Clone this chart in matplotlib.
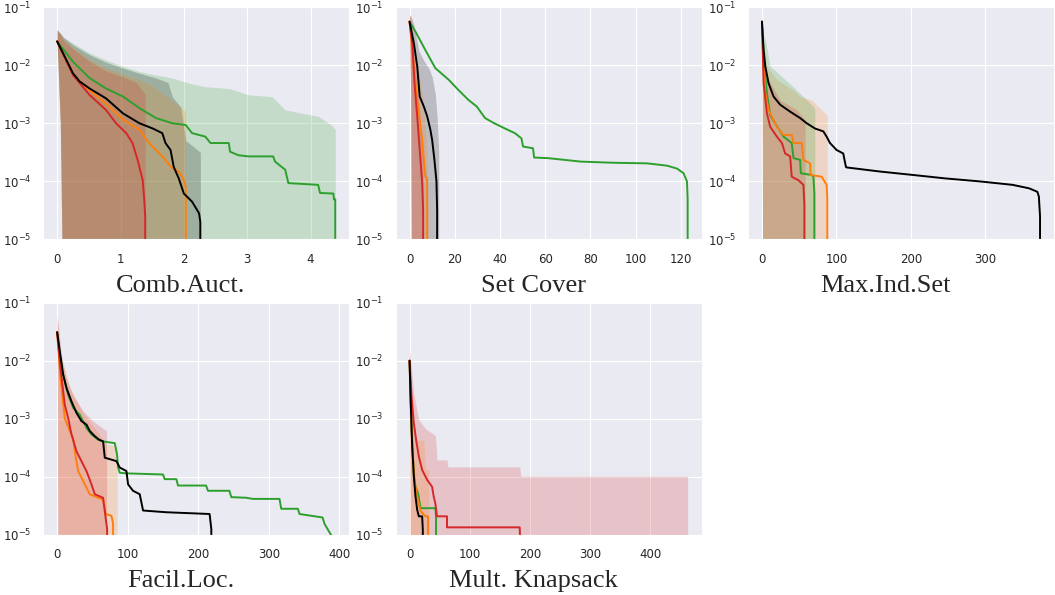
import matplotlib
matplotlib.use("Agg")
import matplotlib.pyplot as plt
import numpy as np
import seaborn as sns

sns.set_style("darkgrid")
plt.rcParams['font.family'] = ['DejaVu Sans']

GREEN = '#2ca02c'
ORANGE = '#ff7f0e'
RED = '#d62728'
BLACK = 'black'
FLOOR = -7  # exponent below the visible axis, used where a curve leaves the plot

# ---------------------------------------------------------------- Comb.Auct.
# x values and log10(y) values
ca_green_x = [0, 0.25, 0.51, 0.77, 1.04, 1.30, 1.56, 1.82, 2.03, 2.13, 2.34, 2.42, 2.71,
              2.73, 2.86, 3.02, 3.41, 3.44, 3.6, 3.65, 4.12, 4.15, 4.36, 4.37, 4.39, 4.39]
ca_green_e = [-1.59, -1.94, -2.22, -2.40, -2.54, -2.74, -2.91, -3.0, -3.03, -3.17, -3.23, -3.34, -3.34,
              -3.49, -3.55, -3.57, -3.57, -3.66, -3.80, -4.03, -4.06, -4.2, -4.21, -4.31, -4.31, FLOOR]
ca_orange_x = [0, 0.25, 0.51, 0.77, 1.04, 1.30, 1.45, 1.66, 1.82, 1.92, 2.0, 2.03, 2.03]
ca_orange_e = [-1.59, -2.17, -2.43, -2.66, -2.94, -3.11, -3.34, -3.57, -3.78, -3.83, -3.98, -4.1, FLOOR]
ca_red_x = [0, 0.25, 0.51, 0.77, 0.93, 1.09, 1.19, 1.27, 1.35, 1.375, 1.39, 1.39]
ca_red_e = [-1.59, -2.17, -2.51, -2.77, -3.0, -3.17, -3.34, -3.63, -3.98, -4.32, -4.6, FLOOR]
ca_black_x = [0, 0.146, 0.25, 0.356, 0.51, 0.77, 1.04, 1.30, 1.51, 1.66, 1.71, 1.79, 1.84,
              1.92, 2.0, 2.13, 2.24, 2.26, 2.26]
ca_black_e = [-1.59, -1.91, -2.14, -2.28, -2.40, -2.57, -2.83, -3.0, -3.09, -3.17, -3.34, -3.46, -3.75,
              -3.95, -4.21, -4.35, -4.55, -4.7, FLOOR]

ca_green_band_x = [0, 0.05, 0.1, 0.25, 0.51, 0.77, 1.04, 1.30, 1.56, 1.82, 2.08, 2.34, 2.71,
                   3.02, 3.39, 3.6, 4.12, 4.33, 4.39]
ca_green_band_hi = [-1.39, -1.45, -1.52, -1.62, -1.79, -1.91, -2.02, -2.11, -2.17, -2.22, -2.31, -2.37, -2.40,
                    -2.51, -2.54, -2.77, -2.88, -3.03, -3.11]
ca_green_band_lo = [-1.62, -3.0, -7, -7, -7, -7, -7, -7, -7, -7, -7, -7, -7,
                    -7, -7, -7, -7, -7, -7]
ca_black_band_x = [0, 0.05, 0.1, 0.25, 0.51, 0.77, 1.04, 1.30, 1.56, 1.75, 1.82, 1.95, 2.03, 2.15, 2.26]
ca_black_band_hi = [-1.39, -1.45, -1.52, -1.65, -1.82, -1.95, -2.05, -2.14, -2.22, -2.3, -2.55, -2.72,
                    -3.3, -3.4, -3.5]
ca_black_band_lo = [-1.62, -3.0, -7, -7, -7, -7, -7, -7, -7, -7, -7, -7, -7, -7, -7]
ca_orange_band_x = [0, 0.05, 0.1, 0.25, 0.51, 0.77, 1.04, 1.30, 1.5, 1.8, 2.03]
ca_orange_band_hi = [-1.39, -1.45, -1.55, -1.7, -1.9, -2.05, -2.15, -2.25, -2.35, -2.6, -2.8]
ca_orange_band_lo = [-1.62, -3.0, -7, -7, -7, -7, -7, -7, -7, -7, -7]
ca_red_band_x = [0, 0.05, 0.1, 0.25, 0.51, 0.77, 1.04, 1.25, 1.39]
ca_red_band_hi = [-1.39, -1.47, -1.57, -1.72, -1.93, -2.1, -2.2, -2.3, -2.5]
ca_red_band_lo = [-1.62, -3.0, -7, -7, -7, -7, -7, -7, -7]
ca_xticks = [0, 1, 2, 3, 4]

# ---------------------------------------------------------------- Set Cover
sc_green_x = [0, 2.6, 7.0, 11.4, 17.3, 21.7, 26.1, 29.7, 33.4, 37.0, 42.2, 46.6, 49.5, 50.2, 54.6,
              55.1, 61.2, 68.5, 75.8, 90.5, 105.1, 113.9, 118.3, 121.2, 122.7, 123, 123]
sc_green_e = [-1.25, -1.42, -1.74, -2.05, -2.25, -2.43, -2.60, -2.71, -2.91, -2.99, -3.09, -3.17, -3.26,
              -3.40, -3.43, -3.59, -3.60, -3.63, -3.66, -3.68, -3.69, -3.73, -3.78, -3.86, -4.0, -4.3, FLOOR]
sc_orange_x = [0, 1.2, 2.6, 4.1, 5.6, 6.6, 7.0, 7.8, 7.8]
sc_orange_e = [-1.25, -1.74, -2.31, -2.83, -3.29, -3.75, -3.92, -3.95, FLOOR]
sc_red_x = [0, 1.2, 2.2, 3.4, 4.5, 5.6, 6.0, 6.0]
sc_red_e = [-1.25, -1.62, -2.31, -2.89, -3.46, -4.03, -4.5, FLOOR]
sc_black_x = [0, 1.9, 3.4, 4.5, 6.3, 7.8, 9.2, 10, 11, 11.9, 12.2, 12.2]
sc_black_e = [-1.25, -1.62, -2.02, -2.54, -2.71, -2.88, -3.11, -3.29, -3.63, -4.0, -4.5, FLOOR]

sc_black_band_x = [0, 0.5, 1.0, 1.9, 4.1, 6.3, 8.5, 10, 11.4, 12.2, 12.9]
sc_black_band_hi = [-1.13, -1.15, -1.2, -1.3, -1.75, -1.92, -2.05, -2.2, -2.5, -2.9, -3.5]
sc_black_band_lo = [-1.4, -2.5, -7, -7, -7, -7, -7, -7, -7, -7, -7]
sc_orange_band_x = [0, 0.5, 1.0, 2, 4, 6, 7.5, 8.2]
sc_orange_band_hi = [-1.13, -1.2, -1.3, -1.6, -2.1, -2.6, -3.3, -4.5]
sc_orange_band_lo = [-1.4, -2.5, -7, -7, -7, -7, -7, -7]
sc_red_band_x = [0, 0.5, 1.0, 1.5, 3, 4.5, 5.9, 6.3]
sc_red_band_hi = [-1.13, -1.2, -1.35, -1.7, -2.2, -2.8, -3.6, -5]
sc_red_band_lo = [-1.4, -2.5, -7, -7, -7, -7, -7, -7]
sc_xticks = [0, 20, 40, 60, 80, 100, 120]

# ---------------------------------------------------------------- Max.Ind.Set
mis_green_x = [0, 3.1, 6.7, 11.1, 17.8, 29, 40, 42.4, 51.3, 52.2, 66.9, 69.1, 70.4, 70.4]
mis_green_e = [-1.25, -2.02, -2.48, -2.86, -3.0, -3.23, -3.34, -3.60, -3.63, -3.86, -3.89, -3.92, -4.2, FLOOR]
mis_orange_x = [0, 2.2, 4.5, 8.9, 17.8, 24.5, 29, 40, 42.4, 53.5, 55.7, 64.6, 65.5, 80.2, 86.9, 87.8, 87.8]
mis_orange_e = [-1.25, -2.02, -2.48, -2.77, -3.0, -3.14, -3.20, -3.20, -3.34, -3.34, -3.63, -3.69, -3.89,
                -3.92, -4.06, -4.3, FLOOR]
mis_red_x = [0, 2.2, 6.7, 11.1, 20.1, 26.8, 31.2, 37.9, 40, 49, 55.7, 57, 57]
mis_red_e = [-1.25, -2.31, -2.83, -3.06, -3.23, -3.34, -3.52, -3.57, -3.92, -3.98, -4.06, -4.4, FLOOR]
mis_black_x = [0, 2.2, 4.5, 8.9, 15.6, 24.5, 37.9, 51.3, 60.2, 71.3, 82.5, 86.9, 91.4, 100.3, 109.2,
               112.8, 113.7, 158, 203, 247, 292, 336.6, 359, 370, 372, 373.6, 373.6]
mis_black_e = [-1.25, -1.74, -2.02, -2.31, -2.54, -2.68, -2.80, -2.91, -3.0, -3.09, -3.14, -3.23, -3.34,
               -3.46, -3.52, -3.75, -3.76, -3.83, -3.89, -3.95, -4.0, -4.06, -4.12, -4.18, -4.26, -4.6, FLOOR]

mis_orange_band_x = [0, 0.5, 1, 6.7, 20, 42.4, 51.3, 66.9, 82.5, 87.8]
mis_orange_band_hi = [-1.13, -1.3, -1.5, -2.02, -2.25, -2.43, -2.54, -2.6, -2.8, -2.86]
mis_orange_band_lo = [-1.3, -3, -7, -7, -7, -7, -7, -7, -7, -7]
mis_green_band_x = [0, 0.5, 1, 4.5, 11.1, 24.5, 46.8, 69, 71]
mis_green_band_hi = [-1.13, -1.3, -1.45, -1.56, -2.02, -2.17, -2.43, -2.71, -2.75]
mis_green_band_lo = [-1.3, -3, -7, -7, -7, -7, -7, -7, -7]
mis_red_band_x = [0, 0.5, 1, 6.7, 24.5, 46.8, 58]
mis_red_band_hi = [-1.13, -1.4, -1.7, -2.2, -2.6, -2.77, -2.94]
mis_red_band_lo = [-1.3, -3, -7, -7, -7, -7, -7]
mis_xticks = [0, 100, 200, 300]

# ---------------------------------------------------------------- Facil.Loc.
fl_green_x = [0, 3.8, 8.5, 15.6, 22.6, 32, 41.5, 48.6, 58, 65, 81.6, 84.9, 86.3, 88.7, 98, 150, 152.4,
              168.9, 171.2, 211, 213.7, 244, 246.7, 268, 277, 315, 317.5, 341, 343.4, 376, 378.8, 388, 394]
fl_green_e = [-1.51, -1.9, -2.24, -2.59, -2.81, -2.93, -3.16, -3.27, -3.36, -3.39, -3.42, -3.62, -3.84,
              -3.93, -3.94, -3.96, -4.04, -4.04, -4.15, -4.15, -4.24, -4.24, -4.35, -4.36, -4.38, -4.38,
              -4.55, -4.55, -4.64, -4.70, -4.81, -5.0, -5.3]
fl_orange_x = [0, 4.7, 10.8, 17.9, 22.6, 25, 29.7, 36.8, 46.2, 58, 65, 68.9, 76.9, 79.2, 79.2]
fl_orange_e = [-1.51, -2.3, -2.99, -3.21, -3.33, -3.56, -3.90, -4.07, -4.30, -4.36, -4.39, -4.64, -4.67,
               -4.8, FLOOR]
fl_red_x = [0, 4.7, 10.8, 15.6, 20.3, 27.4, 34.4, 41.5, 48.6, 53.3, 65, 67.5, 69.8, 70.8, 70.8]
fl_red_e = [-1.51, -2.13, -2.76, -2.99, -3.27, -3.56, -3.73, -3.90, -4.13, -4.30, -4.36, -4.59, -4.81,
            -4.9, FLOOR]
fl_black_x = [0, 3.8, 8.5, 13.2, 20.3, 27.4, 34.4, 41.5, 46.2, 53.3, 59.4, 65.1, 67.5, 84, 88.7, 98.1,
              100.5, 107.5, 117, 121.7, 154.7, 216, 218.4, 218.4]
fl_black_e = [-1.51, -1.84, -2.24, -2.47, -2.70, -2.90, -3.04, -3.10, -3.21, -3.30, -3.36, -3.39, -3.67,
              -3.73, -3.84, -3.90, -4.13, -4.24, -4.30, -4.58, -4.61, -4.64, -4.9, FLOOR]

fl_orange_band_x = [0, 0.5, 1.4, 3.8, 17.9, 36.8, 53.3, 69.8, 85]
fl_orange_band_hi = [-1.25, -1.35, -1.5, -1.9, -2.47, -2.9, -3.16, -3.44, -3.47]
fl_orange_band_lo = [-1.6, -3, -7, -7, -7, -7, -7, -7, -7]
fl_red_band_x = [0, 0.5, 1.4, 6.1, 13.2, 22.6, 36.8, 51, 67.5, 70]
fl_red_band_hi = [-1.25, -1.28, -1.33, -1.9, -2.3, -2.59, -2.87, -3.04, -3.19, -3.2]
fl_red_band_lo = [-1.6, -3, -7, -7, -7, -7, -7, -7, -7, -7]
fl_xticks = [0, 100, 200, 300, 400]

# ---------------------------------------------------------------- Mult. Knapsack
mk_green_x = [0, 3.3, 7.2, 9.9, 14.3, 18.2, 42.9, 44, 44]
mk_green_e = [-2.0, -3.19, -4.0, -4.17, -4.29, -4.54, -4.54, -4.7, FLOOR]
mk_orange_x = [0, 2.2, 5.5, 8.8, 12.7, 18.2, 26.4, 30.8, 30.8]
mk_orange_e = [-2.0, -2.91, -3.65, -4.11, -4.34, -4.59, -4.68, -4.68, FLOOR]
mk_red_x = [0, 3.3, 7.2, 11, 15.4, 20.9, 29.1, 37.4, 40.1, 42.9, 45.6, 62.2, 62.2, 183, 184, 184]
mk_red_e = [-2.0, -2.62, -3.08, -3.37, -3.65, -3.88, -4.05, -4.17, -4.34, -4.46, -4.68, -4.68, -4.87,
            -4.87, -5.2, FLOOR]
mk_black_x = [0, 1.65, 4.4, 7.2, 9.9, 12.7, 15.4, 20.9, 22, 22]
mk_black_e = [-2.0, -2.62, -3.48, -4.0, -4.34, -4.57, -4.68, -4.68, -4.9, FLOOR]

mk_red_band_x = [0, 0.5, 1.65, 7.2, 15.4, 26.4, 43, 45.7, 62.2, 63.8, 183, 184.8, 462]
mk_red_band_hi = [-1.79, -1.85, -1.96, -2.59, -3.02, -3.17, -3.29, -3.71, -3.71, -3.83, -3.83, -3.99, -3.99]
mk_red_band_lo = [-2.1, -3.5, -7, -7, -7, -7, -7, -7, -7, -7, -7, -7, -7]
mk_orange_band_x = [0, 0.5, 1.65, 4.4, 9.9, 23.7, 26.4, 31.9]
mk_orange_band_hi = [-2.0, -2.1, -2.3, -2.85, -3.37, -3.37, -3.88, -3.88]
mk_orange_band_lo = [-2.1, -3.5, -7, -7, -7, -7, -7, -7]
mk_xticks = [0, 100, 200, 300, 400]

titles = ['Comb.Auct.', 'Set Cover', 'Max.Ind.Set', 'Facil.Loc.', 'Mult. Knapsack']
xticks = [ca_xticks, sc_xticks, mis_xticks, fl_xticks, mk_xticks]

panels = [
    ([(GREEN, ca_green_x, ca_green_e), (ORANGE, ca_orange_x, ca_orange_e),
      (RED, ca_red_x, ca_red_e), (BLACK, ca_black_x, ca_black_e)],
     [(GREEN, ca_green_band_x, ca_green_band_lo, ca_green_band_hi),
      (BLACK, ca_black_band_x, ca_black_band_lo, ca_black_band_hi),
      (ORANGE, ca_orange_band_x, ca_orange_band_lo, ca_orange_band_hi),
      (RED, ca_red_band_x, ca_red_band_lo, ca_red_band_hi)]),
    ([(GREEN, sc_green_x, sc_green_e), (ORANGE, sc_orange_x, sc_orange_e),
      (RED, sc_red_x, sc_red_e), (BLACK, sc_black_x, sc_black_e)],
     [(BLACK, sc_black_band_x, sc_black_band_lo, sc_black_band_hi),
      (ORANGE, sc_orange_band_x, sc_orange_band_lo, sc_orange_band_hi),
      (RED, sc_red_band_x, sc_red_band_lo, sc_red_band_hi)]),
    ([(GREEN, mis_green_x, mis_green_e), (ORANGE, mis_orange_x, mis_orange_e),
      (RED, mis_red_x, mis_red_e), (BLACK, mis_black_x, mis_black_e)],
     [(ORANGE, mis_orange_band_x, mis_orange_band_lo, mis_orange_band_hi),
      (GREEN, mis_green_band_x, mis_green_band_lo, mis_green_band_hi),
      (RED, mis_red_band_x, mis_red_band_lo, mis_red_band_hi)]),
    ([(GREEN, fl_green_x, fl_green_e), (ORANGE, fl_orange_x, fl_orange_e),
      (RED, fl_red_x, fl_red_e), (BLACK, fl_black_x, fl_black_e)],
     [(ORANGE, fl_orange_band_x, fl_orange_band_lo, fl_orange_band_hi),
      (RED, fl_red_band_x, fl_red_band_lo, fl_red_band_hi)]),
    ([(GREEN, mk_green_x, mk_green_e), (ORANGE, mk_orange_x, mk_orange_e),
      (RED, mk_red_x, mk_red_e), (BLACK, mk_black_x, mk_black_e)],
     [(RED, mk_red_band_x, mk_red_band_lo, mk_red_band_hi),
      (ORANGE, mk_orange_band_x, mk_orange_band_lo, mk_orange_band_hi)]),
]


def draw_panel(ax, title, ticks, lines, bands):
    for color, bx, blo, bhi in bands:
        ax.fill_between(bx, np.power(10.0, blo), np.power(10.0, bhi),
                        color=color, alpha=0.2, linewidth=0)
    for color, x, e in lines:
        ax.plot(x, np.power(10.0, e), color=color, lw=1.4)
    ax.set_yscale('log')
    ax.set_ylim(1e-5, 1e-1)
    ax.set_xticks(ticks)
    ax.tick_params(axis='x', labelsize=8.5, pad=6, colors='.15')
    ax.tick_params(axis='y', labelsize=8.5, pad=5, colors='.15')
    ax.tick_params(which='minor', length=0)
    ax.text(0.45, -0.225, title, transform=ax.transAxes, ha='center', va='baseline',
            family='Liberation Serif', fontsize=19)


fig, axes = plt.subplots(2, 3, figsize=(10.55, 5.95), dpi=100)
fig.subplots_adjust(left=0.041, right=0.999, top=0.988, bottom=0.101, wspace=0.152, hspace=0.272)

for ax, title, ticks, (lines, bands) in zip(axes.flat, titles, xticks, panels):
    draw_panel(ax, title, ticks, lines, bands)
axes[1, 2].set_visible(False)

fig.savefig('out.png', dpi=100)
